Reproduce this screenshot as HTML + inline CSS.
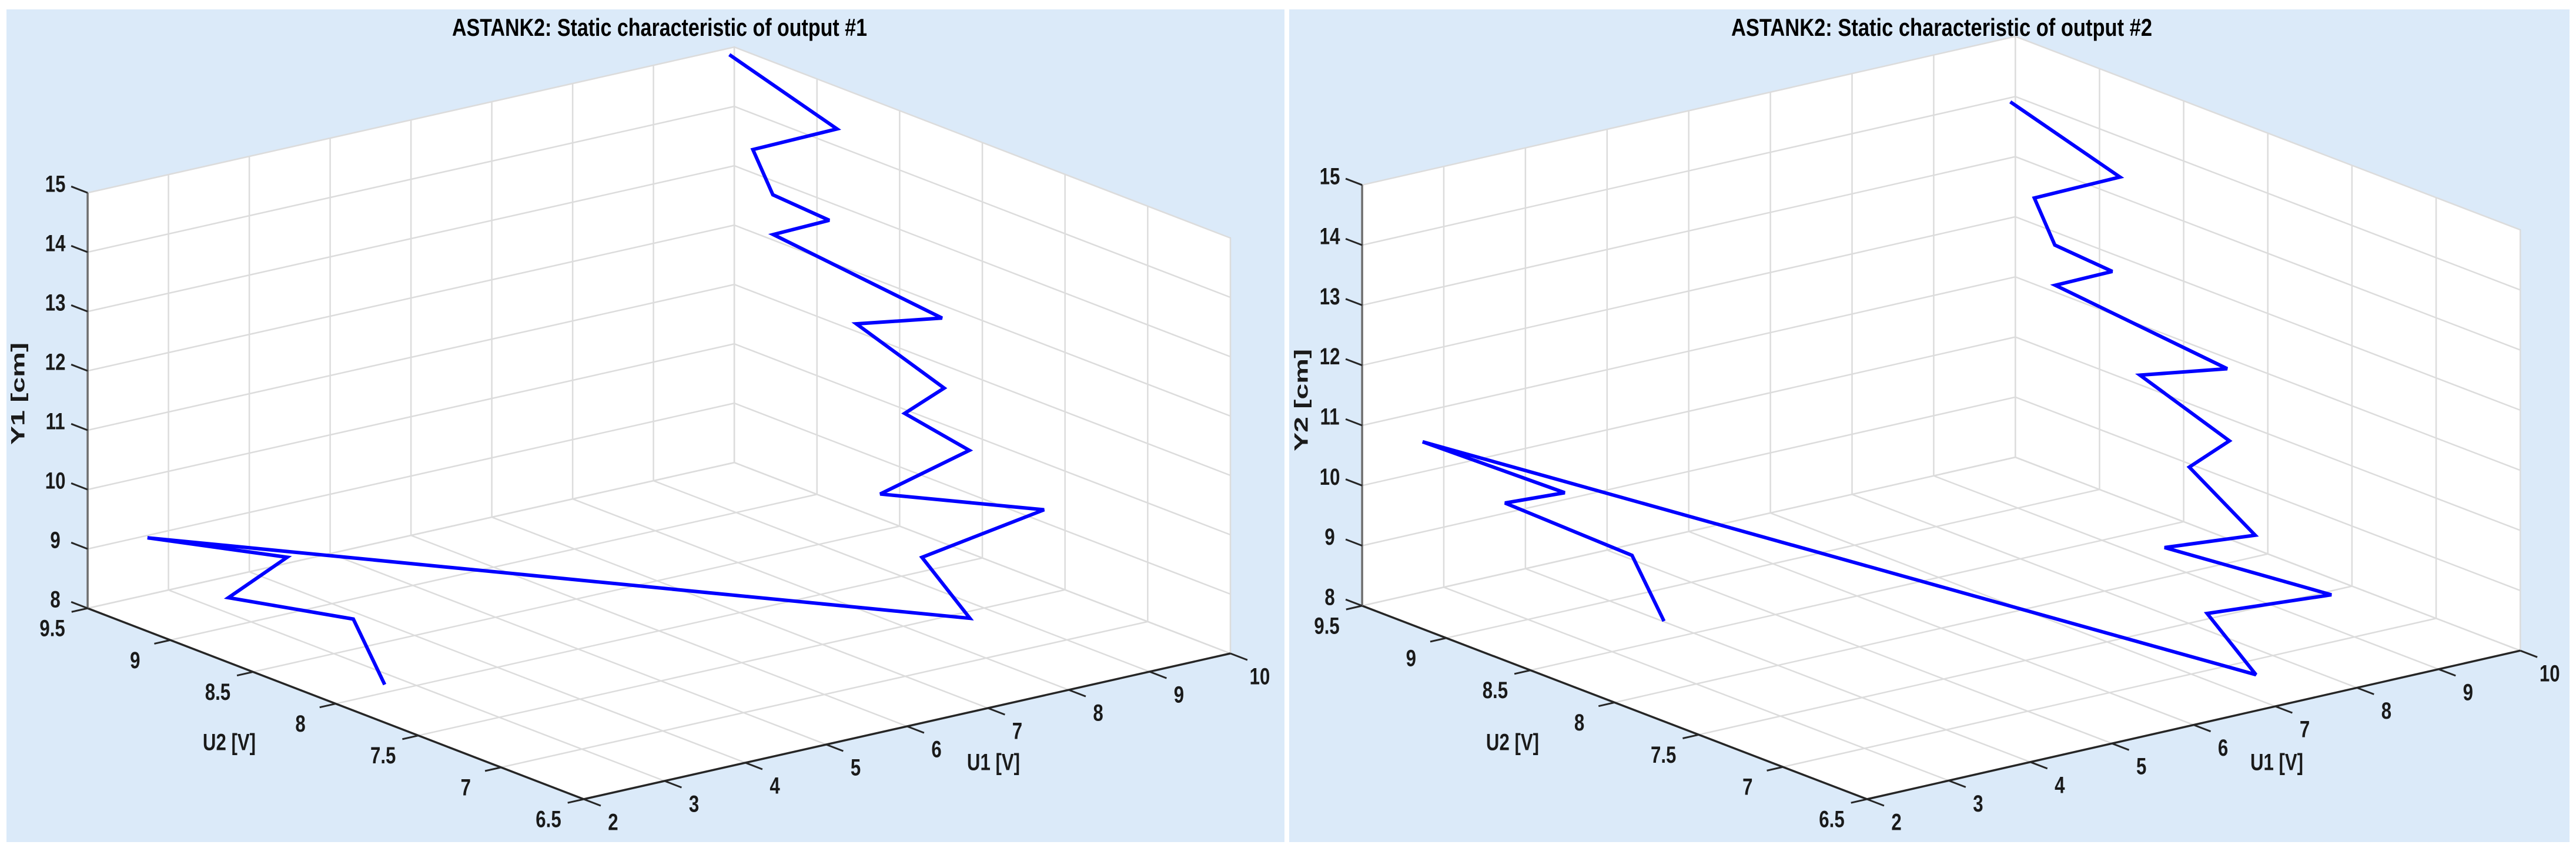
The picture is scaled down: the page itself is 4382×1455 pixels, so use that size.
<!DOCTYPE html>
<html><head><meta charset="utf-8"><style>
html,body{margin:0;padding:0;background:#fff;}
svg{display:block;}
text{font-family:"Liberation Sans",sans-serif;}
</style></head><body>
<svg id="fig" width="4382" height="1455" viewBox="0 0 4382 1455" xmlns="http://www.w3.org/2000/svg">
<rect x="0" y="0" width="4382" height="1455" fill="#ffffff"/>
</svg>
<script>
// ---- data (shared inputs) ----
const u1Values = [10.0, 9.9, 9.8, 9.7, 9.6, 9.5, 9.4, 9.3, 9.2, 9.1, 9.0, 8.9, 8.8, 8.7, 8.68, 2.74, 2.75, 2.76, 2.77, 2.77];
const u2Values = [9.53, 8.83, 9.29, 9.12, 8.73, 9.02, 7.95, 8.42, 7.84, 8.03, 7.59, 8.08, 7.04, 7.73, 7.43, 9.5, 8.66, 9.02, 8.27, 8.08];
const y1Values = [14.84, 14.37, 13.56, 13.01, 13.03, 12.51, 12.28, 11.71, 11.28, 10.68, 10.56, 9.33, 10.21, 8.70, 8.0, 8.96, 9.53, 8.46, 8.90, 8.0];
const y2Values = [13.88, 13.41, 12.60, 12.03, 12.04, 11.53, 11.32, 10.74, 10.30, 9.69, 9.06, 8.36, 8.72, 7.70, 7.01, 10.50, 10.55, 9.99, 9.92, 9.03];
const u1Ticks = [2, 3, 4, 5, 6, 7, 8, 9, 10];
const u2Ticks = [6.5, 7, 7.5, 8, 8.5, 9, 9.5];
const yTicks = [8, 9, 10, 11, 12, 13, 14, 15];
const u1TickLabels = ["2","3","4","5","6","7","8","9","10"];
const u2TickLabels = ["6.5","7","7.5","8","8.5","9","9.5"];
const yTickLabels = ["8","9","10","11","12","13","14","15"];

const NS = "http://www.w3.org/2000/svg";
const fig = document.getElementById('fig');
function mk(tag, attrs, parent){
  const e = document.createElementNS(NS, tag);
  for (const k in attrs) e.setAttribute(k, attrs[k]);
  (parent||fig).appendChild(e);
  return e;
}

function drawPanel(cfg, yVals, idx){
  const g = mk('g', {});
  
  
  const bg = mk('rect', {x:cfg.px, y:16, width:cfg.pw, height:1417, fill:'#dbeaf9'}, g);
  
  
  const U1min=2,U1max=10,U2min=6.5,U2max=9.5,Ymin=8,Ymax=15;
  function P(u1,u2,y){
    return [cfg.ox + (u1-U1min)*cfg.e1[0] + (u2-U2min)*cfg.e2[0],
            cfg.oy + (u1-U1min)*cfg.e1[1] + (u2-U2min)*cfg.e2[1] + (y-Ymin)*cfg.ey];
  }
  function poly(pts){ return pts.map(p=>p[0].toFixed(1)+','+p[1].toFixed(1)).join(' '); }
  const floor = mk('polygon', {points:poly([P(U1min,U2min,Ymin),P(U1max,U2min,Ymin),P(U1max,U2max,Ymin),P(U1min,U2max,Ymin)]), fill:'#fff'}, g);
  
  
  const wl = mk('polygon', {points:poly([P(U1min,U2max,Ymin),P(U1max,U2max,Ymin),P(U1max,U2max,Ymax),P(U1min,U2max,Ymax)]), fill:'#fff', stroke:'#c8c8c8', 'stroke-width':2}, g);
  
  
  const wr = mk('polygon', {points:poly([P(U1max,U2min,Ymin),P(U1max,U2max,Ymin),P(U1max,U2max,Ymax),P(U1max,U2min,Ymax)]), fill:'#fff', stroke:'#c8c8c8', 'stroke-width':2}, g);
  
  
  const grid = mk('g', {stroke:'#dcdcdc', 'stroke-width':2.5, fill:'none'}, g);
  
  
  function ln(a,b,parent,attrs){ return mk('line', Object.assign({x1:a[0],y1:a[1],x2:b[0],y2:b[1]}, attrs||{}), parent); }
  u1Ticks.forEach(u=>{ ln(P(u,U2min,Ymin),P(u,U2max,Ymin),grid); ln(P(u,U2max,Ymin),P(u,U2max,Ymax),grid); });
  u2Ticks.forEach(u=>{ ln(P(U1min,u,Ymin),P(U1max,u,Ymin),grid); ln(P(U1max,u,Ymin),P(U1max,u,Ymax),grid); });
  yTicks.forEach(y=>{ ln(P(U1min,U2max,y),P(U1max,U2max,y),grid); ln(P(U1max,U2max,y),P(U1max,U2min,y),grid); });
  const axU1 = ln(P(U1min,U2min,Ymin),P(U1max,U2min,Ymin),g,{stroke:'#262626','stroke-width':3.5});
  
  
  const axU2 = ln(P(U1min,U2min,Ymin),P(U1min,U2max,Ymin),g,{stroke:'#262626','stroke-width':3.5});
  
  
  const axY = ln(P(U1min,U2max,Ymin),P(U1min,U2max,Ymax),g,{stroke:'#6e6e6e','stroke-width':3.5});
  
  
  function norm(v,L){ const l=Math.hypot(v[0],v[1]); return [v[0]/l*L, v[1]/l*L]; }
  const tU1 = norm([-cfg.e2[0],-cfg.e2[1]],31), tU2 = norm([-cfg.e1[0],-cfg.e1[1]],28), tY = norm(cfg.e2,30);
  function lbl(txt, x, y, name, size, anchor){
    const t = mk('text', {x:x, y:y, 'font-size':size||40, 'font-weight':'bold', fill:'#1a1a1a', 'text-anchor':anchor||'middle', 'dominant-baseline':'middle', transform:'translate('+x+' '+y+') scale(0.78 1) translate('+(-x)+' '+(-y)+')'}, g);
    t.textContent = txt;
    
    
    return t;
  }
  u1Ticks.forEach((u,i)=>{ const p=P(u,U2min,Ymin); ln(p,[p[0]+tU1[0],p[1]+tU1[1]],g,{stroke:'#262626','stroke-width':3}); lbl(u1TickLabels[i], p[0]+50, p[1]+42, 'u1-tick-label'); });
  u2Ticks.forEach((u,i)=>{ const p=P(U1min,u,Ymin); ln(p,[p[0]+tU2[0],p[1]+tU2[1]],g,{stroke:'#262626','stroke-width':3}); lbl(u2TickLabels[i], p[0]-60, p[1]+37, 'u2-tick-label'); });
  yTicks.forEach((y,i)=>{ const p=P(U1min,U2max,y); ln(p,[p[0]+tY[0],p[1]+tY[1]],g,{stroke:'#262626','stroke-width':3}); lbl(yTickLabels[i], p[0]-55, p[1]-12, 'y-tick-label'); });
  lbl('U1 [V]', cfg.ox+697, 1300, 'u1-axis-title', 40);
  lbl('U2 [V]', cfg.ox-603, 1266, 'u2-axis-title', 40);
  const yt = mk('text', {x:0, y:0, 'font-size':32, 'font-weight':'bold', 'font-family':'"Liberation Mono",monospace', fill:'#1a1a1a', 'text-anchor':'middle', 'dominant-baseline':'middle', textLength:174, lengthAdjust:'spacingAndGlyphs', transform:'translate('+cfg.ylx+' '+cfg.yly+') rotate(-90)'}, g);
  yt.textContent = cfg.ylabel;
  
  
  const tt = mk('text', {x:cfg.tx, y:50, 'font-size':42, 'font-weight':'bold', fill:'#000', 'text-anchor':'middle', 'dominant-baseline':'middle', textLength:cfg.tw, lengthAdjust:'spacingAndGlyphs'}, g);
  tt.textContent = cfg.title;
  
  
  const pts = u1Values.map((u,i)=>P(u, u2Values[i], yVals[i]));
  const line = mk('polyline', {points:poly(pts), fill:'none', stroke:'#0000ff', 'stroke-width':6, 'stroke-linejoin':'miter', 'stroke-miterlimit':3}, g);
  
  
}

drawPanel({px:11, pw:2174, ox:993, oy:1360, e1:[137.5,-31], e2:[-281.3,-108.3], ey:-101,
  title:'ASTANK2: Static characteristic of output #1', tx:1122, tw:706, ylabel:'Y1 [cm]', ylx:33, yly:670}, y1Values, 1);
drawPanel({px:2193, pw:2178, ox:3176, oy:1360, e1:[138.9,-31.6], e2:[-286.3,-109.7], ey:-102.3,
  title:'ASTANK2: Static characteristic of output #2', tx:3303, tw:716, ylabel:'Y2 [cm]', ylx:2216, yly:681}, y2Values, 2);
</script>
</body></html>
